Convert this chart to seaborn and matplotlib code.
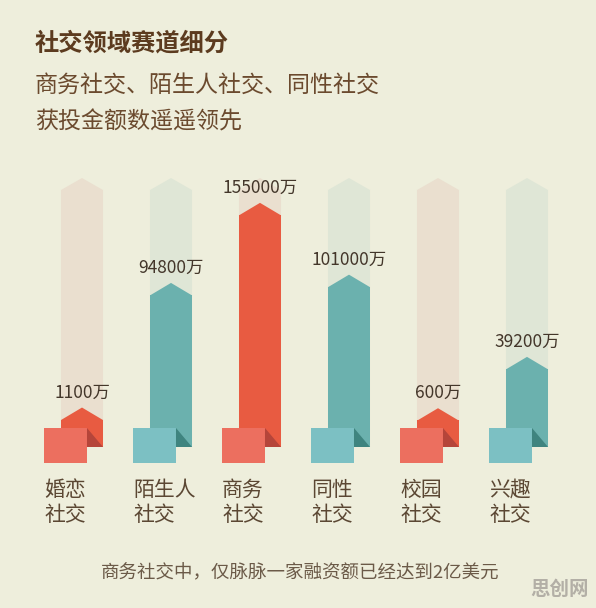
import pandas as pd
import matplotlib
matplotlib.use('Agg')
import matplotlib.pyplot as plt
import seaborn as sns

# 数据
names = ['婚恋', '陌生人', '商务', '同性', '校园', '兴趣']
funding = [1100, 94800, 155000, 101000, 600, 39200]   # 单位：万
tones = ['red', 'teal', 'red', 'teal', 'red', 'teal']

title = '社交领域赛道细分'
subtitle = ['商务社交、陌生人社交、同性社交', '获投金额数遥遥领先']
footnote = '商务社交中，仅脉脉一家融资额已经达到2亿美元'
watermark = '思创网'

palette = {
    'red': dict(bar='#E85B41', square='#EC6F5F', fold='#B5453A', back='#EADFCF'),
    'teal': dict(bar='#6BB1AE', square='#7CC0C3', fold='#3F847F', back='#DFE6D6'),
}
bg = '#EEEEDC'

sns.set_theme(style='white')
plt.rcParams['font.family'] = ['Noto Sans CJK SC', 'DejaVu Sans']

fig = plt.figure(figsize=(5.96, 6.08), dpi=100, facecolor=bg)
ax = fig.add_axes([0, 0, 1, 1])
ax.set_facecolor(bg)

df = pd.DataFrame({'name': names, 'funding': funding, 'tone': tones})
# 柱高（像素）= 起始高度 + 金额比例
df['peak'] = 38 + 0.00133 * df['funding']
head = 12
df['body'] = df['peak'] - head

half = 0.236      # 半个柱宽（x 单位）
top = 269         # 背景箭头高度

# 背景浅色箭头
for i, t in enumerate(tones):
    ax.fill([i - half, i - half, i, i + half, i + half],
            [0, top - head, top, top - head, 0],
            color=palette[t]['back'], lw=0, zorder=1)

# 柱体
sns.barplot(data=df, x='name', y='body', hue='name',
            palette=[palette[t]['bar'] for t in tones],
            width=2 * half, saturation=1, errorbar=None, legend=False,
            linewidth=0, ax=ax, zorder=2)

for i, row in df.iterrows():
    c = palette[row['tone']]
    # 箭头
    ax.fill([i - half, i, i + half], [row['body'] - 0.5, row['peak'], row['body'] - 0.5],
            color=c['bar'], lw=0, zorder=2)
    # 底部方块和折角
    left, right = i - 0.427, i + 0.056
    ax.fill([left, right, right, left], [19, 19, -16, -16],
            color=c['square'], lw=0, zorder=3)
    ax.fill([right, i + half, right], [19, 0, 0], color=c['fold'], lw=0, zorder=3)
    # 数值
    ax.text(i, row['peak'] + 15, f"{row['funding']}万", ha='center', va='center',
            fontsize=12.5, color='#43362A', zorder=4)
    # 类别
    ax.text(left, -43, row['name'], ha='left', va='center', fontsize=15, color='#5B4733')
    ax.text(left, -68, '社交', ha='left', va='center', fontsize=15, color='#5B4733')

ax.set_xlim((0 - 82) / 89, (596 - 82) / 89)
ax.set_ylim(447 - 608, 447)
ax.axis('off')

W, H = 596, 608
fig.text(35 / W, 1 - 43 / H, title, fontsize=17.5, weight='bold', color='#5C3B1F',
         ha='left', va='center')
fig.text(35 / W, 1 - 85 / H, subtitle[0], fontsize=16.6, color='#6B4A2E',
         ha='left', va='center')
fig.text(35 / W, 1 - 122 / H, subtitle[1], fontsize=16.6, color='#6B4A2E',
         ha='left', va='center')
fig.text(101 / W, 1 - 573 / H, footnote, fontsize=13.3, color='#6B5A48',
         ha='left', va='center')
fig.text(560 / W, 1 - 589 / H, watermark, fontsize=14, weight='bold', color='#B3AFA6',
         ha='center', va='center')

fig.savefig('out.png', dpi=100, facecolor=bg)
